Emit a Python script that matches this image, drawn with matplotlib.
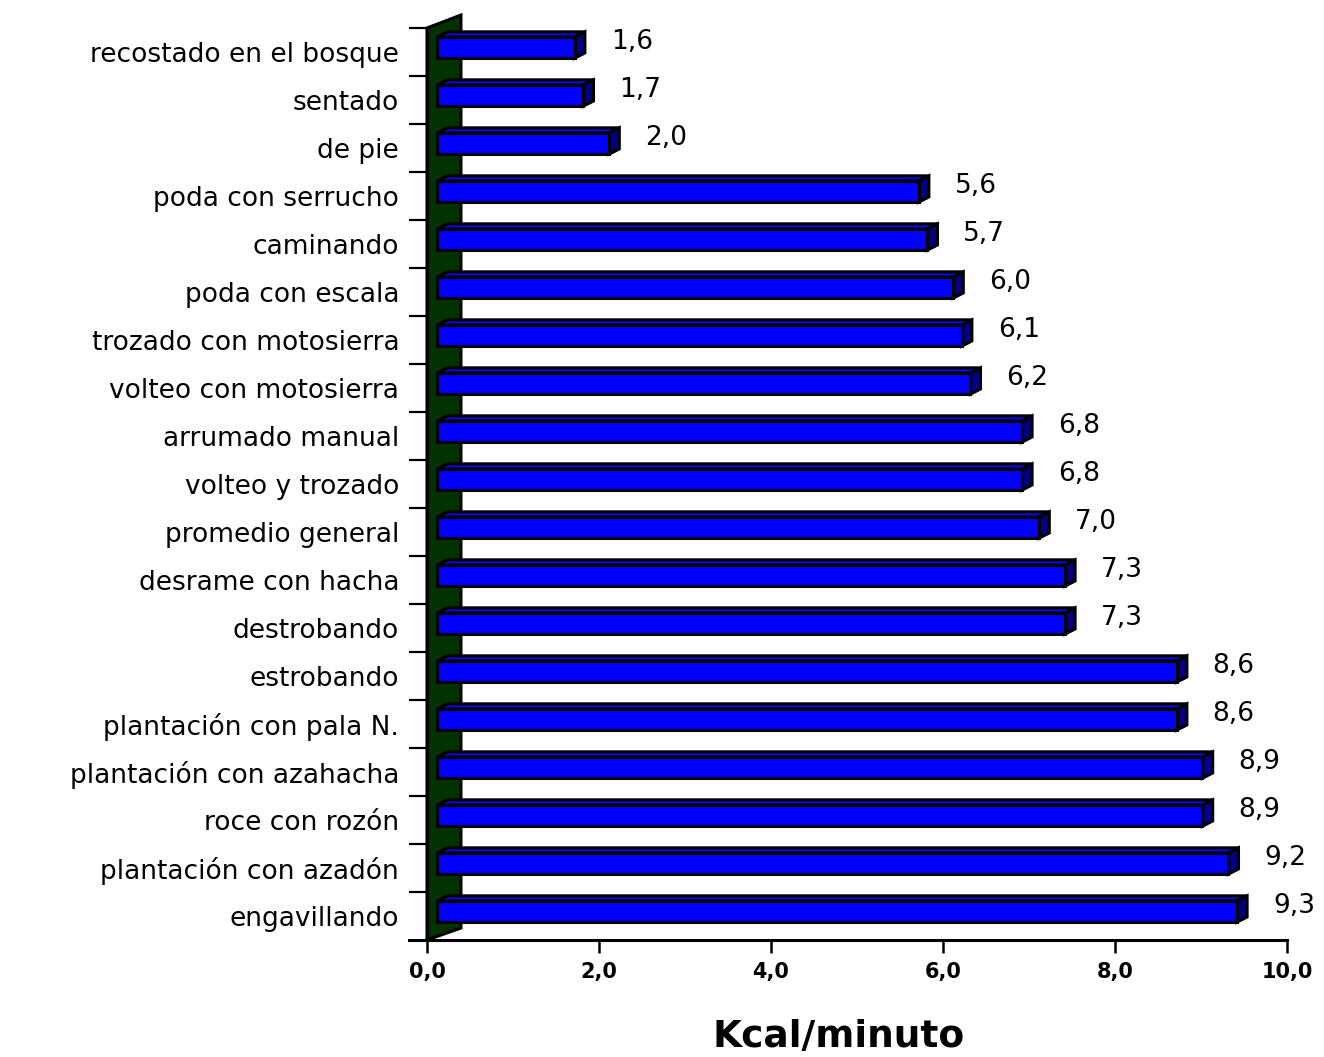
import matplotlib.pyplot as plt
from matplotlib.patches import Polygon
from matplotlib.lines import Line2D

# Gasto energético por actividad forestal
actividades = ['recostado en el bosque', 'sentado', 'de pie', 'poda con serrucho',
               'caminando', 'poda con escala', 'trozado con motosierra',
               'volteo con motosierra', 'arrumado manual', 'volteo y trozado',
               'promedio general', 'desrame con hacha', 'destrobando', 'estrobando',
               'plantación con pala N.', 'plantación con azahacha', 'roce con rozón',
               'plantación con azadón', 'engavillando']
kcal = [1.6, 1.7, 2.0, 5.6, 5.7, 6.0, 6.1, 6.2, 6.8, 6.8, 7.0, 7.3, 7.3,
        8.6, 8.6, 8.9, 8.9, 9.2, 9.3]
xticks = [0, 2, 4, 6, 8, 10]

W, H = 1324, 1057
fig = plt.figure(figsize=(W / 100, H / 100), dpi=100)
ax = fig.add_axes([427 / W, (H - 940) / H, 860 / W, (940 - 28) / H])
ax.set_xlim(0, 10)
ax.set_ylim(len(actividades) - 0.5, -0.5)

# efecto 3D: desplazamiento de la pared y de las barras
base = 0.116     # inicio de las barras (profundidad de la pared)
dx, dy = 0.12, 0.11
alto = 0.44
desp = -0.09

# pared verde a la izquierda
n = len(actividades)
pared = Polygon([(0, n - 0.5), (0, -0.5), (0.395, -0.77), (0.395, n - 0.75)],
                closed=True, facecolor='#003300', edgecolor='black', lw=2.2,
                clip_on=False, zorder=1)
ax.add_patch(pared)

ys = [i + desp for i in range(n)]
ax.barh(ys, kcal, height=alto, left=base, color='#0000FF', edgecolor='black',
        linewidth=2.2, zorder=4)

for y, v in zip(ys, kcal):
    x1 = base + v
    yt, yb = y - alto / 2, y + alto / 2
    tapa = Polygon([(base, yt), (base + dx, yt - dy), (x1 + dx, yt - dy), (x1, yt)],
                   closed=True, facecolor='#0A0ADC', edgecolor='black', lw=2.2, zorder=3)
    lado = Polygon([(x1, yt), (x1 + dx, yt - dy), (x1 + dx, yb - dy), (x1, yb)],
                   closed=True, facecolor='#000080', edgecolor='black', lw=2.2, zorder=3)
    ax.add_patch(tapa)
    ax.add_patch(lado)
    ax.text(x1 + dx + 0.3, y - 0.12, f'{v:.1f}'.replace('.', ','),
            fontsize=19, ha='left', va='center', family='DejaVu Sans')

# ejes
for s in ['top', 'right', 'bottom']:
    ax.spines[s].set_visible(False)
ax.spines['left'].set_linewidth(2.2)
ax.add_line(Line2D([-0.21, 10], [n - 0.5, n - 0.5], color='black', lw=2.2,
                   clip_on=False, zorder=5))

ax.set_yticks(range(n))
ax.set_yticklabels(actividades, fontsize=19)
ax.set_yticks([i - 0.5 for i in range(n)], minor=True)
ax.tick_params(axis='y', which='major', length=0, pad=20)
ax.tick_params(axis='y', which='minor', length=13, width=1.6, color='black')

ax.set_xticks(xticks)
ax.set_xticklabels([f'{t:.1f}'.replace('.', ',') for t in xticks],
                   fontsize=15, fontweight='bold')
ax.tick_params(axis='x', length=9, width=1.8, pad=7)

fig.text(839 / W, (H - 1047) / H, 'Kcal/minuto', fontsize=27, fontweight='bold',
         ha='center', va='baseline')

fig.savefig('out.png', dpi=100)
